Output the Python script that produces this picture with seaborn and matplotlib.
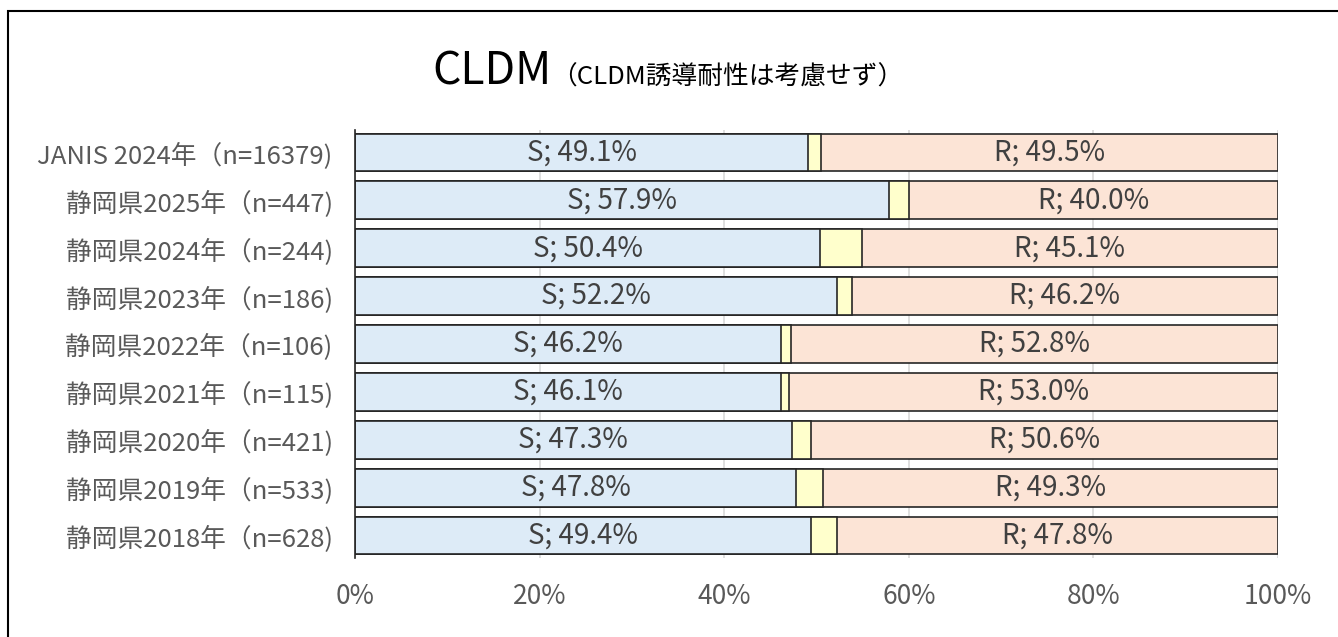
import matplotlib
matplotlib.use("Agg")
import matplotlib.pyplot as plt
import numpy as np
import pandas as pd
import seaborn as sns
from matplotlib.patches import Rectangle

CATEGORIES = [
    "JANIS 2024年（n=16379)",
    "静岡県2025年（n=447)",
    "静岡県2024年（n=244)",
    "静岡県2023年（n=186)",
    "静岡県2022年（n=106)",
    "静岡県2021年（n=115)",
    "静岡県2020年（n=421)",
    "静岡県2019年（n=533)",
    "静岡県2018年（n=628)",
]
S_PCT = [49.1, 57.9, 50.4, 52.2, 46.2, 46.1, 47.3, 47.8, 49.4]
I_PCT = [1.4, 2.1, 4.5, 1.6, 1.0, 0.9, 2.1, 2.9, 2.8]
R_PCT = [49.5, 40.0, 45.1, 46.2, 52.8, 53.0, 50.6, 49.3, 47.8]
XTICKS = [0, 20, 40, 60, 80, 100]

S_COLOR = "#DDEBF7"
I_COLOR = "#FFFFCC"
R_COLOR = "#FCE4D6"
EDGE = "#262626"
TEXT = "#404040"

sns.set_theme(style="white")
plt.rcParams["font.family"] = ["Noto Sans CJK JP", "DejaVu Sans"]

df = pd.DataFrame({"cat": CATEGORIES, "S": S_PCT, "I": I_PCT, "R": R_PCT})
df["SI"] = df["S"] + df["I"]
df["SIR"] = df["SI"] + df["R"]

fig = plt.figure(figsize=(13.38, 6.37), dpi=100)
ax = fig.add_axes([0.2653, 0.124, 0.6899, 0.672])

# stacked bars: draw cumulative totals back to front
for col, color in [("SIR", R_COLOR), ("SI", I_COLOR), ("S", S_COLOR)]:
    sns.barplot(data=df, y="cat", x=col, orient="h", color=color,
                saturation=1, edgecolor=EDGE, linewidth=1.2, width=0.79,
                ax=ax, zorder=2)

for i, row in df.iterrows():
    ax.text(row["S"] / 2, i, f"S; {row['S']:.1f}%", ha="center", va="center",
            fontsize=20, color=TEXT, zorder=3)
    ax.text(row["SI"] + row["R"] / 2, i, f"R; {row['R']:.1f}%", ha="center",
            va="center", fontsize=20, color=TEXT, zorder=3)

ax.set_xlim(0, 100)
ax.set_ylim(8.47, -0.47)
ax.set_xticks(XTICKS)
ax.set_xticklabels([f"{t}%" for t in XTICKS])
ax.xaxis.grid(True, color="#D9D9D9", linewidth=1.2, zorder=0)
ax.set_axisbelow(True)
ax.set_xlabel("")
ax.set_ylabel("")
ax.tick_params(axis="x", length=0, pad=18, labelsize=19, labelcolor="#595959")
ax.tick_params(axis="y", length=0, pad=16, labelsize=18.5, labelcolor="#595959")
for side in ["top", "right", "bottom"]:
    ax.spines[side].set_visible(False)
ax.spines["left"].set_color(EDGE)
ax.spines["left"].set_linewidth(1.2)
ax.spines["left"].set_zorder(4)

fig.text(0.412, 0.888, "CLDM", fontsize=32, ha="right", va="center", color="black")
fig.text(0.412, 0.878, "（CLDM誘導耐性は考慮せず）", fontsize=18.5, ha="left",
         va="center", color="black")

fig.patches.append(Rectangle((8 / 1338, -0.05), 1.2, 1 - 11 / 637 + 0.05,
                             transform=fig.transFigure, fill=False,
                             edgecolor="black", linewidth=1.5))

fig.savefig("out.png", dpi=100)
